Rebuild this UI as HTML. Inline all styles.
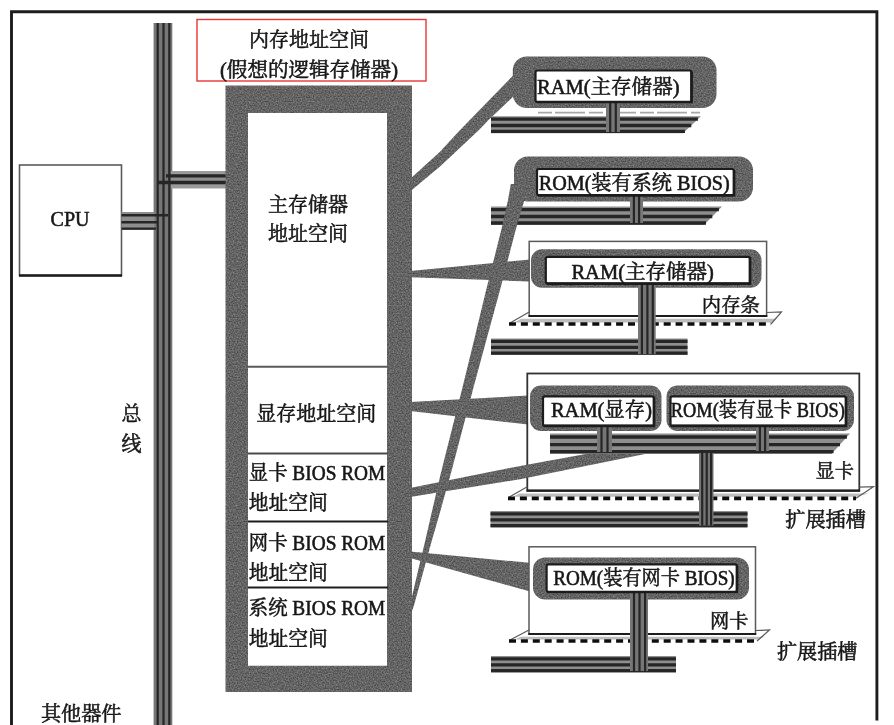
<!DOCTYPE html>
<html lang="zh-CN">
<head>
<meta charset="utf-8">
<title>内存地址空间</title>
<style>
html,body{margin:0;padding:0;background:#fff;}
body{width:894px;height:725px;overflow:hidden;}
svg{display:block;}
svg text{font-family:"Liberation Serif","Noto Serif CJK SC",serif;fill:#161616;stroke:#161616;stroke-width:0.55px;}
</style>
</head>
<body>
<svg width="894" height="725" viewBox="0 0 894 725">
<defs>
<filter id="soft" x="0" y="0" width="894" height="725" filterUnits="userSpaceOnUse">
<feGaussianBlur stdDeviation="0.62"/>
</filter>
<filter id="grain" x="-5%" y="-5%" width="110%" height="110%" color-interpolation-filters="sRGB">
<feTurbulence type="fractalNoise" baseFrequency="0.75" numOctaves="1" seed="7" result="n"/>
<feColorMatrix in="n" type="matrix" values="0.5 0 0 0 0.142  0.5 0 0 0 0.142  0.5 0 0 0 0.142  0 0 0 0 1" result="g"/>
<feComposite in="g" in2="SourceGraphic" operator="in"/>
</filter>
</defs>
<rect x="0" y="0" width="894" height="725" fill="#ffffff"/>
<g filter="url(#soft)">
<path d="M11.5 725 V11.8 H876.9 V720.5" fill="none" stroke="#1c1c1c" stroke-width="2.9"/>
<polygon points="410,179 440,151.7 458.2,132 488.3,101 517,71.5 517,93 488.5,120 479,130 440,166.5 410,191.5" fill="#5c5c5c" filter="url(#grain)"/>
<polygon points="491,206.5 722,206.5 704,225 491,225" fill="#8e8e8e"/>
<line x1="491" y1="209.6" x2="718.9" y2="209.6" stroke="#262626" stroke-width="3.3"/>
<line x1="491" y1="216.5" x2="712.3" y2="216.5" stroke="#262626" stroke-width="3.3"/>
<line x1="491" y1="223.0" x2="706.0" y2="223.0" stroke="#262626" stroke-width="3.3"/>
<polygon points="510.8,184 508.0,200 501.0,231 485.4,293 475.3,335 462.1,389 441.6,470 430.4,518 425.4,540 414.9,584 409.8,606 408.2,616 410.2,616 413.8,606 419.9,584 432.0,540 438.4,518 451.8,470 473.1,389 487.7,335 499.2,293 515.4,231 524.4,200 529.8,184" fill="#5c5c5c" filter="url(#grain)"/>
<rect x="153.6" y="23" width="18.7" height="702" fill="#767676"/>
<line x1="157.7" y1="23" x2="157.7" y2="725" stroke="#262626" stroke-width="2.2"/>
<line x1="163.5" y1="23" x2="163.5" y2="725" stroke="#262626" stroke-width="2.2"/>
<line x1="169.3" y1="23" x2="169.3" y2="725" stroke="#262626" stroke-width="2.2"/>
<rect x="19.5" y="165" width="102" height="110.5" fill="#fff" stroke="#5a5a5a" stroke-width="1.6"/>
<line x1="19" y1="275.5" x2="122" y2="275.5" stroke="#1c1c1c" stroke-width="2.6"/>
<text x="70" y="226" font-size="20" text-anchor="middle" >CPU</text>
<rect x="121.5" y="212" width="33" height="18" fill="#8e8e8e"/>
<line x1="121.5" y1="215.2" x2="168" y2="215.2" stroke="#262626" stroke-width="2.4"/>
<line x1="121.5" y1="222.3" x2="158" y2="222.3" stroke="#262626" stroke-width="2.4"/>
<line x1="121.5" y1="228.6" x2="156" y2="228.6" stroke="#262626" stroke-width="2.4"/>
<rect x="171" y="171" width="55" height="17.5" fill="#9a9a9a"/>
<rect x="171" y="174" width="55" height="10.5" fill="#8e8e8e"/>
<line x1="166" y1="175.8" x2="226" y2="175.8" stroke="#262626" stroke-width="3.3"/>
<line x1="158" y1="182.5" x2="226" y2="182.5" stroke="#262626" stroke-width="3.3"/>
<rect x="197" y="19.5" width="229" height="61.5" fill="#fff" stroke="#e93535" stroke-width="1.4"/>
<text x="309" y="47" font-size="20" text-anchor="middle"  textLength="120" lengthAdjust="spacingAndGlyphs">内存地址空间</text>
<text x="309" y="76.5" font-size="20" text-anchor="middle"  textLength="178" lengthAdjust="spacingAndGlyphs">(假想的逻辑存储器)</text>
<path fill-rule="evenodd" fill="#5c5c5c" filter="url(#grain)" d="M225.5 85.5 H412 V692 H225.5 Z M248 113 H387 V665.5 H248 Z"/>
<rect x="248" y="113" width="139" height="552.5" fill="#fff"/>
<line x1="248" y1="366.8" x2="388" y2="366.8" stroke="#5a5a5a" stroke-width="2"/>
<line x1="248" y1="453.4" x2="388" y2="453.4" stroke="#4a4a4a" stroke-width="2"/>
<line x1="248" y1="521.5" x2="388" y2="521.5" stroke="#1c1c1c" stroke-width="2"/>
<line x1="248" y1="587.6" x2="388" y2="587.6" stroke="#1c1c1c" stroke-width="2"/>
<text x="308" y="212" font-size="20" text-anchor="middle"  textLength="80" lengthAdjust="spacingAndGlyphs">主存储器</text>
<text x="308" y="241" font-size="20" text-anchor="middle"  textLength="80" lengthAdjust="spacingAndGlyphs">地址空间</text>
<text x="316.3" y="421" font-size="20" text-anchor="middle"  textLength="120" lengthAdjust="spacingAndGlyphs">显存地址空间</text>
<text x="248.8" y="480" font-size="20" text-anchor="start"  textLength="136.5" lengthAdjust="spacingAndGlyphs">显卡 BIOS ROM</text>
<text x="248.8" y="510.3" font-size="20" text-anchor="start"  textLength="79" lengthAdjust="spacingAndGlyphs">地址空间</text>
<text x="248.8" y="550" font-size="20" text-anchor="start"  textLength="136.5" lengthAdjust="spacingAndGlyphs">网卡 BIOS ROM</text>
<text x="248.8" y="580" font-size="20" text-anchor="start"  textLength="79" lengthAdjust="spacingAndGlyphs">地址空间</text>
<text x="248.8" y="615" font-size="20" text-anchor="start"  textLength="136.5" lengthAdjust="spacingAndGlyphs">系统 BIOS ROM</text>
<text x="248.8" y="646" font-size="20" text-anchor="start"  textLength="79" lengthAdjust="spacingAndGlyphs">地址空间</text>
<text x="131.5" y="420.5" font-size="20" text-anchor="middle" >总</text>
<text x="131.5" y="451" font-size="20" text-anchor="middle" >线</text>
<text x="41" y="721" font-size="20" text-anchor="start"  textLength="80.5" lengthAdjust="spacingAndGlyphs">其他器件</text>
<rect x="512.8" y="56.5" width="203.70000000000005" height="51.5" rx="14" ry="14" fill="#5c5c5c" filter="url(#grain)"/>
<line x1="538" y1="112.7" x2="700" y2="112.7" stroke="#a8a8a8" stroke-width="1.8" stroke-dasharray="14 3 30 4"/>
<polygon points="491,116.3 701,116.3 683,133.3 491,133.3" fill="#8e8e8e"/>
<line x1="491" y1="119.2" x2="697.9" y2="119.2" stroke="#262626" stroke-width="3.3"/>
<line x1="491" y1="125.5" x2="691.3" y2="125.5" stroke="#262626" stroke-width="3.3"/>
<line x1="491" y1="131.4" x2="685.0" y2="131.4" stroke="#262626" stroke-width="3.3"/>
<rect x="606" y="102" width="14.0" height="30" fill="#767676"/>
<line x1="610.2" y1="102" x2="610.2" y2="132" stroke="#262626" stroke-width="2.2"/>
<line x1="615.8" y1="102" x2="615.8" y2="132" stroke="#262626" stroke-width="2.2"/>
<rect x="535.5" y="70.5" width="156.0" height="31.5" rx="2" fill="#fff" stroke="#1c1c1c" stroke-width="2.2"/>
<path d="M691.5 71.5 V102 H536.5" fill="none" stroke="#1c1c1c" stroke-width="2.6"/>
<text x="537" y="93.6" font-size="20" text-anchor="start"  textLength="142.5" lengthAdjust="spacingAndGlyphs">RAM(主存储器)</text>
<rect x="514" y="156.5" width="239" height="45.0" rx="14" ry="14" fill="#5c5c5c" filter="url(#grain)"/>
<rect x="630" y="195" width="13.0" height="28" fill="#767676"/>
<line x1="633.9" y1="195" x2="633.9" y2="223" stroke="#262626" stroke-width="2.2"/>
<line x1="639.1" y1="195" x2="639.1" y2="223" stroke="#262626" stroke-width="2.2"/>
<rect x="537" y="169" width="197" height="26.30000000000001" rx="2" fill="#fff" stroke="#1c1c1c" stroke-width="2.2"/>
<path d="M734 170 V195.3 H538" fill="none" stroke="#1c1c1c" stroke-width="2.6"/>
<text x="538.7" y="190" font-size="20" text-anchor="start"  textLength="191" lengthAdjust="spacingAndGlyphs">ROM(装有系统 BIOS)</text>
<polygon points="410,271 530,259.5 530,281.5 410,277.3" fill="#5c5c5c" filter="url(#grain)"/>
<polygon points="491,338.5 687.5,338.5 687.5,355 491,355" fill="#8e8e8e"/>
<line x1="491" y1="341.3" x2="687.5" y2="341.3" stroke="#262626" stroke-width="3.3"/>
<line x1="491" y1="347.4" x2="687.5" y2="347.4" stroke="#262626" stroke-width="3.3"/>
<line x1="491" y1="353.2" x2="687.5" y2="353.2" stroke="#262626" stroke-width="3.3"/>
<rect x="529.2" y="241.4" width="237.39999999999998" height="74.6" fill="#fff" stroke="#5a5a5a" stroke-width="1.5"/>
<line x1="528.5" y1="316" x2="767.3000000000001" y2="316" stroke="#1c1c1c" stroke-width="2.2"/>
<polygon points="521.2,318.8 776.5,318.8 771,322.5 514,322.5" fill="#bdbdbd"/>
<path d="M529.2 312 L510 323 M766.6 312.5 L781.5 312 L771 324" fill="none" stroke="#5a5a5a" stroke-width="1.2"/>
<line x1="509" y1="324" x2="771" y2="324" stroke="#111" stroke-width="3.7" stroke-dasharray="7 4.9"/>
<rect x="531" y="249.3" width="230.5" height="38.39999999999998" rx="11" ry="11" fill="#5c5c5c" filter="url(#grain)"/>
<rect x="638" y="283" width="17.7" height="71" fill="#767676"/>
<line x1="641.9" y1="283" x2="641.9" y2="354" stroke="#262626" stroke-width="2.2"/>
<line x1="647.4" y1="283" x2="647.4" y2="354" stroke="#262626" stroke-width="2.2"/>
<line x1="652.8" y1="283" x2="652.8" y2="354" stroke="#262626" stroke-width="2.2"/>
<rect x="545.8" y="256.8" width="204.20000000000005" height="26.80000000000001" rx="2" fill="#fff" stroke="#1c1c1c" stroke-width="2.2"/>
<path d="M750 257.8 V283.6 H546.8" fill="none" stroke="#1c1c1c" stroke-width="2.6"/>
<text x="571.4" y="279.3" font-size="20" text-anchor="start"  textLength="142.5" lengthAdjust="spacingAndGlyphs">RAM(主存储器)</text>
<text x="701.8" y="312" font-size="19.6" text-anchor="start"  textLength="58" lengthAdjust="spacingAndGlyphs">内存条</text>
<polygon points="410,402 528,395.5 528,424.5 410,411" fill="#5c5c5c" filter="url(#grain)"/>
<polygon points="490.5,511 747.5,511 747.5,527.5 490.5,527.5" fill="#8e8e8e"/>
<line x1="490.5" y1="513.8" x2="747.5" y2="513.8" stroke="#262626" stroke-width="3.3"/>
<line x1="490.5" y1="519.9" x2="747.5" y2="519.9" stroke="#262626" stroke-width="3.3"/>
<line x1="490.5" y1="525.7" x2="747.5" y2="525.7" stroke="#262626" stroke-width="3.3"/>
<rect x="527.3" y="373.5" width="332.0" height="117.19999999999999" fill="#fff" stroke="#333" stroke-width="1.8"/>
<line x1="526.5999999999999" y1="490.7" x2="860.0" y2="490.7" stroke="#1c1c1c" stroke-width="2.2"/>
<polygon points="519.3,493.5 868.5,493.5 856,496.8 513,496.8" fill="#bdbdbd"/>
<path d="M527.3 486.7 L509 497.3 M859.3 487.2 L873.5 486.7 L856 498.3" fill="none" stroke="#5a5a5a" stroke-width="1.2"/>
<line x1="508" y1="498.3" x2="856" y2="498.3" stroke="#111" stroke-width="3.7" stroke-dasharray="7 4.9"/>
<polygon points="410,488 520,466 594,452.5 676,437 720,436 720,454 645,454 520,479.3 410,497" fill="#5c5c5c" filter="url(#grain)"/>
<polygon points="550,433.5 850.0,433.5 831.5,454 550,454" fill="#8e8e8e"/>
<line x1="550" y1="437.0" x2="846.9" y2="437.0" stroke="#262626" stroke-width="3.3"/>
<line x1="550" y1="444.6" x2="840.0" y2="444.6" stroke="#262626" stroke-width="3.3"/>
<line x1="550" y1="451.7" x2="833.5" y2="451.7" stroke="#262626" stroke-width="3.3"/>
<rect x="699" y="453" width="14.5" height="72.5" fill="#767676"/>
<line x1="702.2" y1="453" x2="702.2" y2="525.5" stroke="#262626" stroke-width="2.2"/>
<line x1="706.7" y1="453" x2="706.7" y2="525.5" stroke="#262626" stroke-width="2.2"/>
<line x1="711.1" y1="453" x2="711.1" y2="525.5" stroke="#262626" stroke-width="2.2"/>
<rect x="530" y="385.5" width="131.5" height="45.5" rx="11" ry="11" fill="#5c5c5c" filter="url(#grain)"/>
<rect x="666.5" y="385.5" width="187.5" height="45.5" rx="11" ry="11" fill="#5c5c5c" filter="url(#grain)"/>
<rect x="597" y="425" width="15.0" height="27" fill="#767676"/>
<line x1="601.5" y1="425" x2="601.5" y2="452" stroke="#262626" stroke-width="2.2"/>
<line x1="607.5" y1="425" x2="607.5" y2="452" stroke="#262626" stroke-width="2.2"/>
<rect x="756" y="425" width="13.0" height="26" fill="#767676"/>
<line x1="759.9" y1="425" x2="759.9" y2="451" stroke="#262626" stroke-width="2.2"/>
<line x1="765.1" y1="425" x2="765.1" y2="451" stroke="#262626" stroke-width="2.2"/>
<rect x="543" y="396.3" width="111" height="29.599999999999966" rx="2" fill="#fff" stroke="#1c1c1c" stroke-width="2.2"/>
<path d="M654 397.3 V425.9 H544" fill="none" stroke="#1c1c1c" stroke-width="2.6"/>
<rect x="670.5" y="396.3" width="175.5" height="29.599999999999966" rx="2" fill="#fff" stroke="#1c1c1c" stroke-width="2.2"/>
<path d="M846 397.3 V425.9 H671.5" fill="none" stroke="#1c1c1c" stroke-width="2.6"/>
<text x="551" y="416.5" font-size="20" text-anchor="start"  textLength="101" lengthAdjust="spacingAndGlyphs">RAM(显存)</text>
<text x="670.8" y="416.5" font-size="20" text-anchor="start"  textLength="174" lengthAdjust="spacingAndGlyphs">ROM(装有显卡 BIOS)</text>
<text x="815.5" y="478" font-size="19.5" text-anchor="start"  textLength="38.5" lengthAdjust="spacingAndGlyphs">显卡</text>
<text x="785.3" y="527" font-size="20" text-anchor="start"  textLength="80.5" lengthAdjust="spacingAndGlyphs">扩展插槽</text>
<polygon points="410,551.5 537,563.5 537,593.5 410,558" fill="#5c5c5c" filter="url(#grain)"/>
<polygon points="491,656 676,656 676,672.5 491,672.5" fill="#8e8e8e"/>
<line x1="491" y1="658.8" x2="676.0" y2="658.8" stroke="#262626" stroke-width="3.3"/>
<line x1="491" y1="664.9" x2="676.0" y2="664.9" stroke="#262626" stroke-width="3.3"/>
<line x1="491" y1="670.7" x2="676.0" y2="670.7" stroke="#262626" stroke-width="3.3"/>
<rect x="529" y="546.8" width="226.5" height="87.20000000000005" fill="#fff" stroke="#5a5a5a" stroke-width="1.5"/>
<line x1="528.3" y1="634" x2="756.2" y2="634" stroke="#1c1c1c" stroke-width="2.2"/>
<polygon points="521,636.8 764.5,636.8 757,639.5 514,639.5" fill="#bdbdbd"/>
<path d="M529 630 L510 640 M755.5 630.5 L769.5 630 L757 641" fill="none" stroke="#5a5a5a" stroke-width="1.2"/>
<line x1="509" y1="641" x2="757" y2="641" stroke="#111" stroke-width="3.7" stroke-dasharray="7 4.9"/>
<rect x="533" y="557.5" width="216" height="42.0" rx="12" ry="12" fill="#5c5c5c" filter="url(#grain)"/>
<rect x="630" y="592" width="18.0" height="79" fill="#767676"/>
<line x1="634.0" y1="592" x2="634.0" y2="671" stroke="#262626" stroke-width="2.2"/>
<line x1="639.5" y1="592" x2="639.5" y2="671" stroke="#262626" stroke-width="2.2"/>
<line x1="645.1" y1="592" x2="645.1" y2="671" stroke="#262626" stroke-width="2.2"/>
<rect x="546.6" y="564.4" width="190.39999999999998" height="27.600000000000023" rx="2" fill="#fff" stroke="#1c1c1c" stroke-width="2.2"/>
<path d="M737 565.4 V592 H547.6" fill="none" stroke="#1c1c1c" stroke-width="2.6"/>
<text x="553.2" y="585.2" font-size="20" text-anchor="start"  textLength="181.5" lengthAdjust="spacingAndGlyphs">ROM(装有网卡 BIOS)</text>
<text x="710" y="627.5" font-size="19.5" text-anchor="start"  textLength="38.5" lengthAdjust="spacingAndGlyphs">网卡</text>
<text x="777" y="658.5" font-size="20" text-anchor="start"  textLength="80.5" lengthAdjust="spacingAndGlyphs">扩展插槽</text>
</g>
</svg>
</body>
</html>
